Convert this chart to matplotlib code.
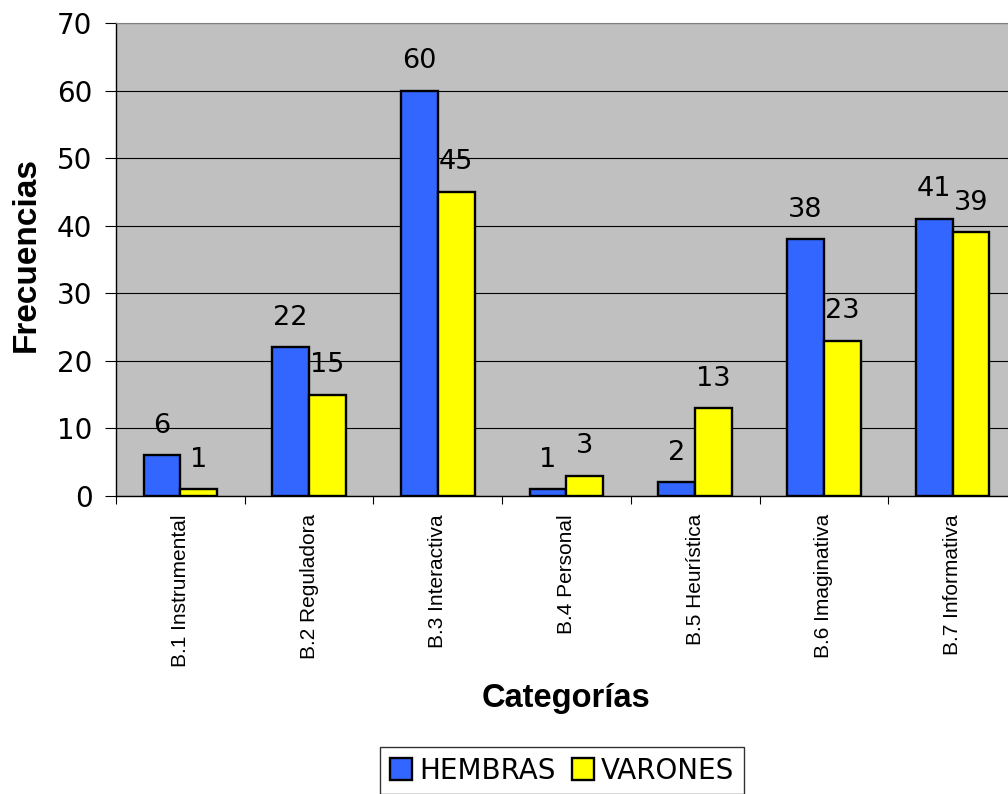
import numpy as np
import matplotlib.pyplot as plt

categorias = ["B.1 Instrumental", "B.2 Reguladora", "B.3 Interactiva", "B.4 Personal",
              "B.5 Heurística", "B.6 Imaginativa", "B.7 Informativa"]
hembras = [6, 22, 60, 1, 2, 38, 41]
varones = [1, 15, 45, 3, 13, 23, 39]

azul = "#3366FF"
amarillo = "#FFFF00"
gris = "#C0C0C0"

fig = plt.figure(figsize=(10.08, 7.94), dpi=100)
# plot area runs a little past the right edge of the figure
ax = fig.add_axes([0.1151, 0.3753, 0.8938, 0.5957])
ax.set_facecolor(gris)

x = np.arange(len(categorias))
ancho = 0.286
b1 = ax.bar(x - ancho / 2, hembras, ancho, color=azul, edgecolor="black", linewidth=1.7,
            label="HEMBRAS", zorder=3)
b2 = ax.bar(x + ancho / 2, varones, ancho, color=amarillo, edgecolor="black", linewidth=1.7,
            label="VARONES", zorder=3)

for barras, vals in ((b1, hembras), (b2, varones)):
    for b, v in zip(barras, vals):
        ax.annotate(str(v), (b.get_x() + b.get_width() / 2, v), xytext=(0, 12),
                    textcoords="offset points", ha="center", va="bottom",
                    fontsize=19.5, family="DejaVu Sans")

ax.set_xlim(-0.5, len(categorias) - 0.5)
ax.set_ylim(0, 70)
ax.set_yticks(range(0, 71, 10))
ax.yaxis.grid(True, color="black", linewidth=0.8, zorder=1)
ax.tick_params(axis="y", direction="out", length=8, width=0.8, labelsize=20, pad=9)
for t in ax.get_yticklabels():
    t.set_family("DejaVu Sans")

# category labels at centres, tick marks at the boundaries
ax.set_xticks(x)
ax.set_xticklabels(categorias, rotation=90, fontsize=15, family="Liberation Sans")
ax.tick_params(axis="x", which="major", length=0, pad=13)
ax.set_xticks(np.arange(len(categorias) + 1) - 0.5, minor=True)
ax.tick_params(axis="x", which="minor", direction="out", length=6, width=0.8)

for s in ("left", "bottom"):
    ax.spines[s].set_color("black")
    ax.spines[s].set_linewidth(1)
ax.spines["top"].set_color("#808080")
ax.spines["right"].set_visible(False)

fig.text(0.026, 1 - 255 / 794, "Frecuencias", rotation=90, ha="center", va="center",
         fontsize=24, fontweight="bold", family="Liberation Sans")
fig.text(566 / 1008, 1 - 698 / 794, "Categorías", ha="center", va="center",
         fontsize=23.5, fontweight="bold", family="Liberation Sans")

leg = fig.legend(handles=[b1, b2], loc="upper center", bbox_to_anchor=(562 / 1008, 1 - 747 / 794),
                 ncol=2, frameon=True, fancybox=False, edgecolor="black",
                 prop={"family": "DejaVu Sans", "size": 20}, handlelength=0.8, handleheight=0.8,
                 handletextpad=0.25, columnspacing=0.6, borderpad=0.35, borderaxespad=0)
leg.get_frame().set_linewidth(1)

fig.savefig("out.png", dpi=100)
